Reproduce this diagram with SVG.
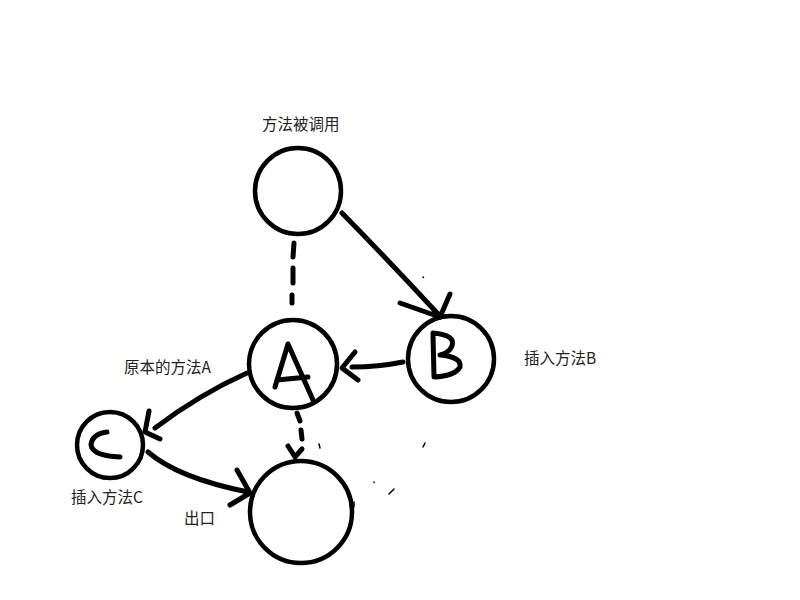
<svg xmlns="http://www.w3.org/2000/svg" width="800" height="600" viewBox="0 0 800 600">
<style>
.node{fill:none;stroke:#000;stroke-width:4.5}
.ink{fill:none;stroke:#000;stroke-width:5;stroke-linecap:round;stroke-linejoin:round}
.thin{fill:none;stroke:#000;stroke-width:1.5;stroke-linecap:round}
.lbl{font-family:"Noto Sans CJK SC","Noto Sans",sans-serif;font-size:15.5px;fill:#222}
</style>
<rect width="800" height="600" fill="#fff"/>
<g id="node-start">
<circle class="node" cx="298" cy="191" r="43"/>
<text class="lbl" x="262" y="130">方法被调用</text>
</g>
<g id="node-A">
<circle class="node" cx="293" cy="364" r="44"/>
<path class="ink" d="M275,387 L288,344 L313,400 M277,380 L308,377"/>
<text class="lbl" x="124" y="373">原本的方法A</text>
</g>
<g id="node-B">
<circle class="node" cx="451" cy="359" r="43"/>
<path class="ink" d="M433,335 L434,377 M433,333 Q456,335 452,346 Q449,353 440,355 Q462,357 460,367 Q455,376 434,377"/>
<text class="lbl" x="524" y="364">插入方法B</text>
</g>
<g id="node-C">
<circle class="node" cx="110" cy="445" r="33"/>
<path class="ink" d="M107,432 Q92,434 91,445 Q93,456 120,457"/>
<text class="lbl" x="71" y="503">插入方法C</text>
</g>
<g id="node-exit">
<circle class="node" cx="301" cy="512" r="51"/>
<text class="lbl" x="184" y="524">出口</text>
</g>
<g id="connectors">
<path class="ink" d="M342,213 Q390,262 438,314 M400,303 Q420,310 440,317 L450,294"/>
<path class="ink" d="M294,243 L293,257 M293,268 L293,283 M292,295 L292,303"/>
<path class="ink" d="M403,362 Q378,367 352,367 M355,352 L342,368 L358,380"/>
<path class="ink" d="M247,373 Q200,394 155,428 M149,411 L145,432 L160,439"/>
<path class="ink" d="M148,452 Q178,478 248,492 M237,470 L250,493 L230,505"/>
<path class="ink" d="M297,413 L300,421 M301,430 L302,439 M288,446 L295,457 L302,449"/>
<path class="thin" d="M319,444 L320,448 M423,447 L425,443 M389,494 L394,489 M354,502 L354,507 M374,482 L374,482.5 M423,277 L423.5,277.5"/>
</g>
</svg>
